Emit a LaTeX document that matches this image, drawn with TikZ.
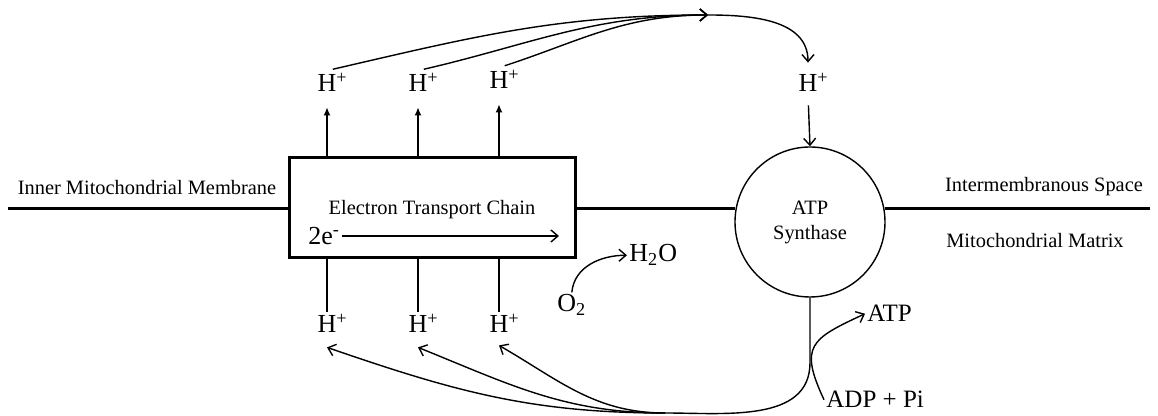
\documentclass[tikz,border=0pt]{standalone}
\usepackage{fontspec}
\setmainfont{Liberation Serif}
\usetikzlibrary{arrows.meta, positioning}

\begin{document}
\begin{tikzpicture}[x=0.5pt, y=0.5pt,
  lbl/.style={font=\fontsize{10.2}{12.5}\selectfont, inner sep=1pt},
  ion/.style={font=\fontsize{13}{15}\selectfont, inner sep=1pt, anchor=base},
  chem/.style={font=\fontsize{12.5}{15}\selectfont, inner sep=1pt, anchor=base west},
  etcbox/.style={draw, line width=1.5pt, minimum width=143pt, minimum height=50pt,
                 inner sep=0pt},
  synth/.style={draw, circle, line width=0.7pt, minimum size=75pt, inner sep=0pt,
                align=center, font=\fontsize{10.2}{12.5}\selectfont},
  mem/.style={line width=1.4pt},
  thin/.style={line width=0.7pt},
  uarr/.style={-{Latex[length=4pt, width=3.5pt]}, line width=0.7pt, shorten >=6.5pt},
  arr/.style={-{Straight Barb[length=3.5pt, width=6pt]}, line width=0.7pt}
]
\useasboundingbox (0,0) rectangle (1158,416);

\node[etcbox] (etc) at (432.5,208) {};
\node[lbl, anchor=base] (etclbl) at (432,201) {Electron Transport Chain};
\node[synth] (syn) at (810,194) {ATP\\Synthase};

\coordinate (memL) at (8,0);
\coordinate (memR) at (1150,0);
\draw[mem] (memL |- syn.170) -- (etc.west |- syn.170);
\draw[mem] (etc.east |- syn.170) -- (syn.170);
\draw[mem] (syn.10) -- (memR |- syn.10);

\node[lbl, anchor=base] (iml) at (147,221) {Inner Mitochondrial Membrane};
\node[lbl, anchor=base] (ims) at (1044,224) {Intermembranous Space};
\node[lbl, anchor=base] (mmx) at (1035,168) {Mitochondrial Matrix};

\node[ion, anchor=west] (e2) at (306,180) {2e\textsuperscript{-}};
\draw[arr, shorten >=9pt] (e2.east) -- (e2.east -| etc.east);

\node[ion] (hu1) at (327,324) {H\rlap{\textsuperscript{+}}};
\node[ion] (hu2) at (418,324) {H\rlap{\textsuperscript{+}}};
\node[ion] (hu3) at (499,327) {H\rlap{\textsuperscript{+}}};
\node[ion] (hs) at (808,324) {H\rlap{\textsuperscript{+}}};
\node[ion] (hl1) at (327,83) {H\rlap{\textsuperscript{+}}};
\node[ion] (hl2) at (418,83) {H\rlap{\textsuperscript{+}}};
\node[ion] (hl3) at (499,83) {H\rlap{\textsuperscript{+}}};

\draw[uarr] (hu1 |- etc.north) -- (hu1.south);
\draw[uarr] (hu2 |- etc.north) -- (hu2.south);
\draw[uarr] (hu3 |- etc.north) -- (hu3.south);
\draw[thin] (hl1 |- etc.south) -- (hl1.north);
\draw[thin] (hl2 |- etc.south) -- (hl2.north);
\draw[thin] (hl3 |- etc.south) -- (hl3.north);

\coordinate (top) at (708,401);
\draw[arr, shorten <=3pt] (hu1.north) to[out=13, in=180] (top);
\draw[arr, shorten <=3pt] (hu2.north) to[out=13, in=180] (top);
\draw[arr, shorten <=3pt] (hu3.north) to[out=18, in=180] (top);
\draw[arr] (top) to[out=0, in=90] ([yshift=4pt]hs.north);
\draw[arr, shorten <=5.5pt] (hs.south) -- (syn.north);

\coordinate (low) at (665,3);
\draw[thin] (syn.south) -- ([yshift=-32.5pt]syn.south) to[out=-90, in=0] (low);
\draw[arr] (low) to[out=180, in=-19] ([yshift=-6pt]hl1.south);
\draw[arr] (low) to[out=180, in=-22] ([yshift=-6pt]hl2.south);
\draw[arr] (low) to[out=180, in=-30] ([yshift=-5pt]hl3.south);

\node[ion, anchor=base west] (o2) at (555,104) {O\textsubscript{2}};
\node[ion, anchor=base west] (h2o) at (627,154) {H\textsubscript{2}O};
\draw[arr] (o2.north) to[out=85, in=180] (h2o.west);

\node[chem] (atp) at (865,94) {ATP};
\node[chem] (adp) at (824,8) {ADP + Pi};
\draw[arr] (adp.west) to[out=115, in=205, looseness=1.6] (atp.west);
\end{tikzpicture}
\end{document}
